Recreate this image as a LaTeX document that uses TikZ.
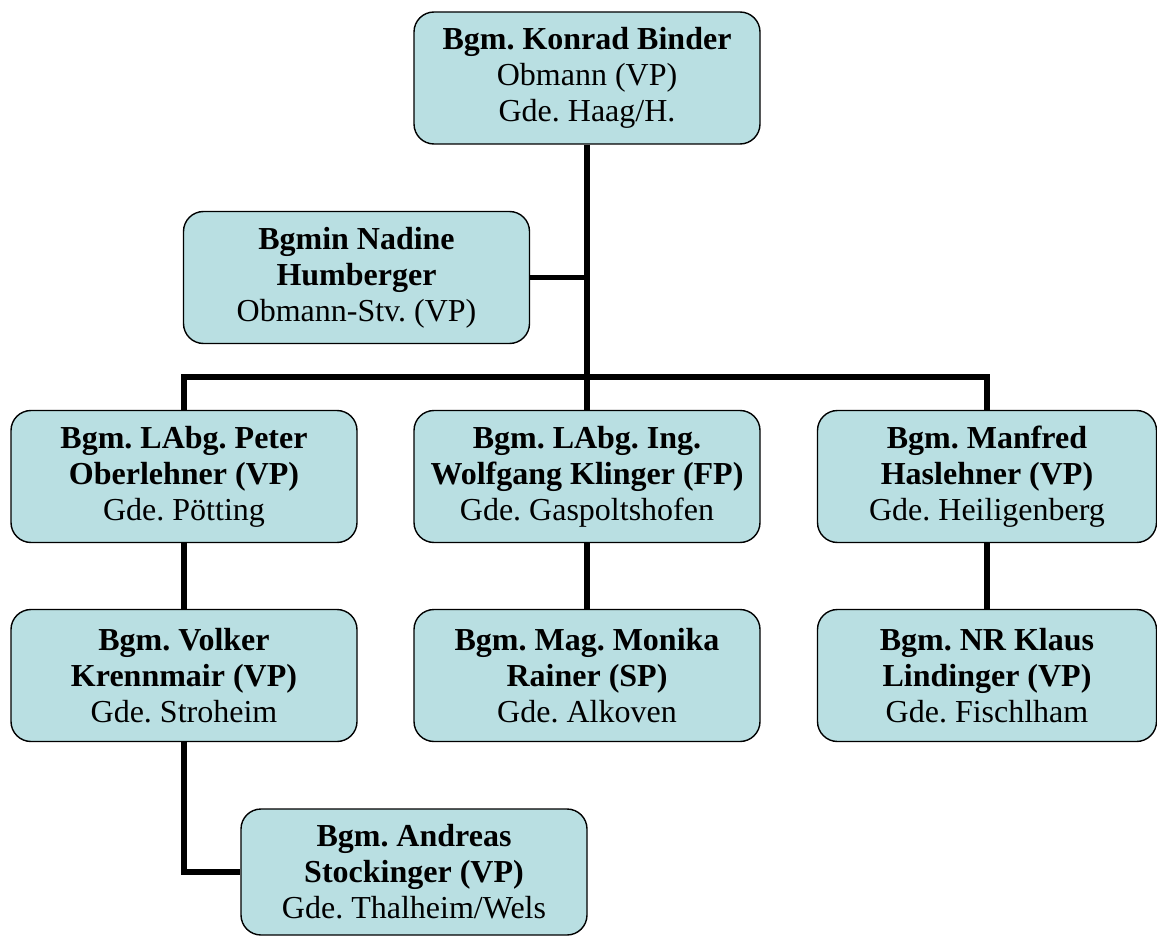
\documentclass[tikz,border=0pt]{standalone}
\usepackage{fontspec}
\setmainfont{Liberation Serif}
\definecolor{boxfill}{RGB}{185,223,226}
\frenchspacing
\begin{document}
\begin{tikzpicture}[x=1pt,y=-1pt,
  box/.style={draw=black,line width=1.4pt,fill=boxfill,rounded corners=20pt,
    minimum width=346pt,minimum height=132pt,align=center,inner sep=0pt,
    font=\fontsize{32}{36}\selectfont\frenchspacing},
  conn/.style={line width=5.5pt,draw=black}]
\useasboundingbox (0,0) rectangle (1157,936);
\coordinate (bus) at (587,377);
\node[box] (binder) at (587,78) {\textbf{Bgm. Konrad Binder}\\Obmann (VP)\\Gde. Haag/H.};
\node[box] (humberger) at (356.5,277.5) {\textbf{Bgmin Nadine}\\\textbf{Humberger}\\Obmann-Stv. (VP)};
\node[box] (oberlehner) at (184,476.5) {\textbf{Bgm. LAbg. Peter}\\\textbf{Oberlehner (VP)}\\Gde. Pötting};
\node[box] (klinger) at (587,476.5) {\textbf{Bgm. LAbg. Ing.}\\\textbf{Wolfgang Klinger (FP)}\\Gde. Gaspoltshofen};
\node[box,minimum width=339pt] (haslehner) at (987,476.5) {\textbf{Bgm. Manfred}\\\textbf{Haslehner (VP)}\\Gde. Heiligenberg};
\node[box] (krennmair) at (184,675.5) {\textbf{Bgm. Volker}\\\textbf{Krennmair (VP)}\\Gde. Stroheim};
\node[box] (rainer) at (587,675.5) {\textbf{Bgm. Mag. Monika}\\\textbf{Rainer (SP)}\\Gde. Alkoven};
\node[box,minimum width=339pt] (lindinger) at (987,675.5) {\textbf{Bgm. NR Klaus}\\\textbf{Lindinger (VP)}\\Gde. Fischlham};
\node[box,minimum height=126pt] (stockinger) at (414,872) {\textbf{Bgm. Andreas}\\\textbf{Stockinger (VP)}\\Gde. Thalheim/Wels};
\draw[conn] (binder.south) -- (bus);
\draw[conn] (humberger.east) -- (humberger.east -| bus);
\draw[conn] (oberlehner.north) |- (bus) -| (haslehner.north);
\draw[conn] (bus) -- (klinger.north);
\draw[conn] (oberlehner.south) -- (krennmair.north);
\draw[conn] (klinger.south) -- (rainer.north);
\draw[conn] (haslehner.south) -- (lindinger.north);
\draw[conn] (krennmair.south) |- (stockinger.west);
\end{tikzpicture}
\end{document}
